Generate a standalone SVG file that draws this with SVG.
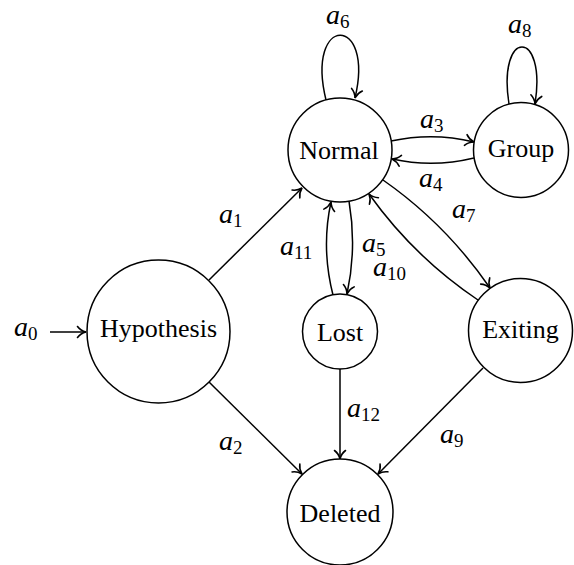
<svg xmlns="http://www.w3.org/2000/svg" width="574" height="565" viewBox="0 0 574 565">
<style>
  .node circle { fill: #fff; stroke: #000; stroke-width: 1.5; }
  .node text { font-family: "Liberation Serif", "Times New Roman", serif; font-size: 26px; text-anchor: middle; fill: #000; }
  .edge { fill: none; stroke: #000; stroke-width: 1.5; marker-end: url(#tip); }
  .lbl { font-family: "Liberation Serif", "Times New Roman", serif; font-style: italic; font-size: 28px; fill: #000; }
  .lbl tspan { font-style: normal; font-size: 19px; }
</style>
<defs>
  <marker id="tip" markerUnits="userSpaceOnUse" viewBox="-10 -7 12 14" refX="0" refY="0" markerWidth="12" markerHeight="14" orient="auto" overflow="visible">
    <path d="M-8.5,-5.5 C-6,-2.2 -2.5,-0.6 0,0 C-2.5,0.6 -6,2.2 -8.5,5.5" fill="none" stroke="#000" stroke-width="1.6" stroke-linecap="round"/>
  </marker>
</defs>
<rect width="574" height="565" fill="#fff"/>
<g id="connectors">
  <path class="edge" d="M50,332 L86,332"/>
  <path class="edge" d="M209,280 L302,188"/>
  <path class="edge" d="M209,382 L302,474"/>
  <path class="edge" d="M340,369 L340,459"/>
  <path class="edge" d="M483,368 L378,474"/>
  <path class="edge" d="M391,141 Q433,132 474,142"/>
  <path class="edge" d="M474,158 Q433,168 392,159"/>
  <path class="edge" d="M349,201 Q357,248 347,294"/>
  <path class="edge" d="M333,295 Q321,248 331,202"/>
  <path class="edge" d="M383,180 Q446,224 490,288"/>
  <path class="edge" d="M478,300 Q414,257 369,194"/>
  <path class="edge" d="M326,100 C305,14 375,14 355,98"/>
  <path class="edge" d="M509,104 C497,28 547,28 535,104"/>
</g>
<g id="labels">
  <text class="lbl" x="14" y="336">a<tspan dy="4">0</tspan></text>
  <text class="lbl" x="219" y="223">a<tspan dy="4">1</tspan></text>
  <text class="lbl" x="219" y="450">a<tspan dy="4">2</tspan></text>
  <text class="lbl" x="420" y="128">a<tspan dy="4">3</tspan></text>
  <text class="lbl" x="419" y="187">a<tspan dy="4">4</tspan></text>
  <text class="lbl" x="362" y="252">a<tspan dy="4">5</tspan></text>
  <text class="lbl" x="326" y="24">a<tspan dy="4">6</tspan></text>
  <text class="lbl" x="452" y="218">a<tspan dy="4">7</tspan></text>
  <text class="lbl" x="508" y="33">a<tspan dy="4">8</tspan></text>
  <text class="lbl" x="440" y="443">a<tspan dy="4">9</tspan></text>
  <text class="lbl" x="373" y="276">a<tspan dy="4">10</tspan></text>
  <text class="lbl" x="280" y="255">a<tspan dy="4">11</tspan></text>
  <text class="lbl" x="347" y="417">a<tspan dy="4">12</tspan></text>
</g>
<g id="node-hypothesis" class="node">
  <circle cx="158.5" cy="331.5" r="71.5"/>
  <text x="158.5" y="337">Hypothesis</text>
</g>
<g id="node-normal" class="node">
  <circle cx="340" cy="150" r="52"/>
  <text x="339" y="159">Normal</text>
</g>
<g id="node-group" class="node">
  <circle cx="521" cy="150" r="47.5"/>
  <text x="521" y="157">Group</text>
</g>
<g id="node-lost" class="node">
  <circle cx="340" cy="331.5" r="37.5"/>
  <text x="340" y="341">Lost</text>
</g>
<g id="node-exiting" class="node">
  <circle cx="520.5" cy="330.5" r="52"/>
  <text x="520.5" y="338">Exiting</text>
</g>
<g id="node-deleted" class="node">
  <circle cx="340" cy="512" r="53"/>
  <text x="340" y="522">Deleted</text>
</g>
</svg>
